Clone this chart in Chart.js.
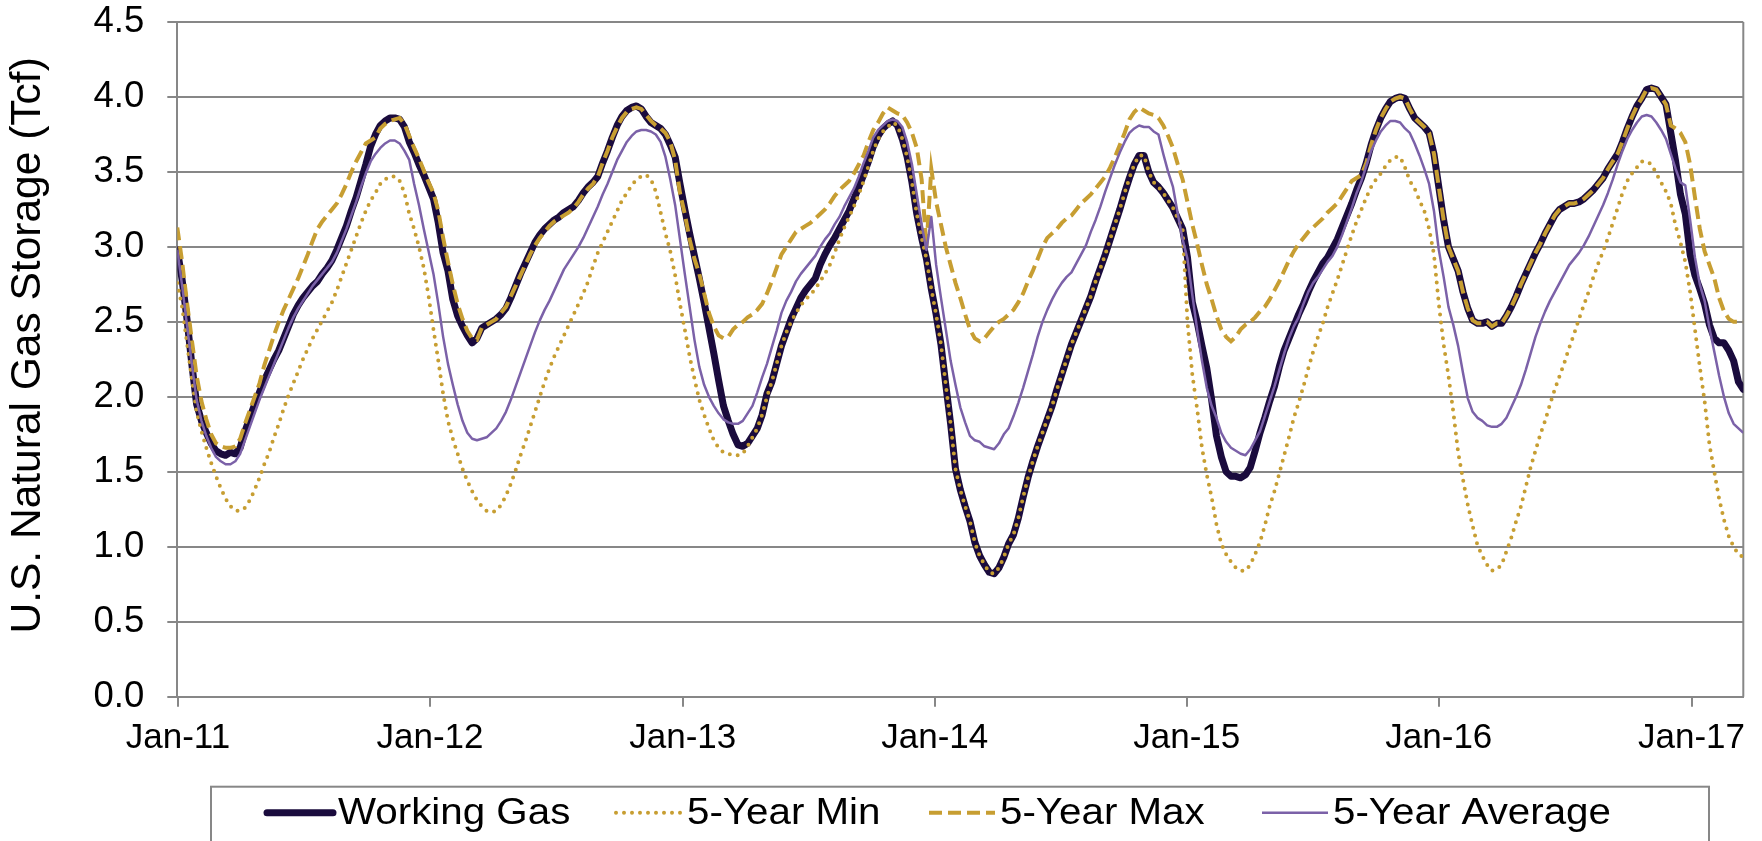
<!DOCTYPE html>
<html>
<head>
<meta charset="utf-8">
<title>U.S. Natural Gas Storage</title>
<script src="https://cdn.jsdelivr.net/npm/chart.js@4.4.0/dist/chart.umd.min.js"></script>
<style>
  html, body { margin: 0; padding: 0; background: #ffffff; }
  #wrap { width: 1762px; height: 841px; position: relative; }
</style>
</head>
<body>
<div id="wrap"><canvas id="storage"></canvas></div>
<script>
// Weekly storage reports, Tcf. First report week ends 2010-12-31, one value per week.
const firstReportDate = '2010-12-31';

const yearTickDates = ['2011-01-01', '2012-01-01', '2013-01-01', '2014-01-01', '2015-01-01', '2016-01-01', '2017-01-01'];
const yearTickLabels = ['Jan-11', 'Jan-12', 'Jan-13', 'Jan-14', 'Jan-15', 'Jan-16', 'Jan-17'];

const seriesNames = ['Working Gas', '5-Year Min', '5-Year Max', '5-Year Average'];
const axisTitle = 'U.S. Natural Gas Storage (Tcf)';

const workingGas = [
  2.98, 2.78, 2.52, 2.22, 1.95, 1.84, 1.76, 1.69, 1.64, 1.62,
  1.61, 1.63, 1.62, 1.66, 1.77, 1.86, 1.95, 2.03, 2.11, 2.18,
  2.25, 2.31, 2.39, 2.47, 2.55, 2.61, 2.66, 2.70, 2.74, 2.77,
  2.82, 2.86, 2.91, 2.98, 3.06, 3.14, 3.24, 3.33, 3.44, 3.55,
  3.67, 3.75, 3.81, 3.84, 3.86, 3.86, 3.85, 3.80, 3.70, 3.63,
  3.55, 3.48, 3.40, 3.32, 3.16, 2.96, 2.84, 2.65, 2.54, 2.47,
  2.41, 2.36, 2.39, 2.46, 2.48, 2.50, 2.52, 2.55, 2.59, 2.66,
  2.74, 2.82, 2.89, 2.96, 3.03, 3.08, 3.12, 3.15, 3.18, 3.20,
  3.23, 3.25, 3.27, 3.31, 3.36, 3.40, 3.43, 3.47, 3.56, 3.64,
  3.73, 3.81, 3.87, 3.91, 3.93, 3.94, 3.92, 3.87, 3.83, 3.81,
  3.79, 3.75, 3.68, 3.60, 3.42, 3.25, 3.09, 2.94, 2.79, 2.63,
  2.46, 2.29, 2.11, 1.94, 1.84, 1.75, 1.68, 1.67, 1.69, 1.74,
  1.79, 1.88, 2.02, 2.10, 2.22, 2.34, 2.43, 2.52, 2.59, 2.66,
  2.71, 2.75, 2.79, 2.88, 2.95, 3.01, 3.06, 3.12, 3.18, 3.24,
  3.32, 3.40, 3.48, 3.57, 3.67, 3.74, 3.79, 3.82, 3.84, 3.81,
  3.72, 3.60, 3.43, 3.22, 3.06, 2.92, 2.72, 2.55, 2.35, 2.08,
  1.82, 1.52, 1.38, 1.27, 1.17, 1.03, 0.94, 0.88, 0.83, 0.82,
  0.86, 0.93, 1.02, 1.08, 1.19, 1.33, 1.46, 1.57, 1.67, 1.76,
  1.85, 1.94, 2.05, 2.15, 2.25, 2.35, 2.43, 2.51, 2.59, 2.67,
  2.77, 2.86, 2.95, 3.05, 3.15, 3.25, 3.36, 3.46, 3.55, 3.61,
  3.61, 3.50, 3.43, 3.40, 3.36, 3.31, 3.26, 3.19, 3.12, 2.93,
  2.63, 2.50, 2.34, 2.19, 1.98, 1.74, 1.60, 1.50, 1.47, 1.47,
  1.46, 1.48, 1.53, 1.64, 1.76, 1.86, 1.97, 2.07, 2.20, 2.31,
  2.39, 2.47, 2.55, 2.62, 2.70, 2.77, 2.83, 2.89, 2.93, 2.99,
  3.05, 3.13, 3.21, 3.29, 3.38, 3.46, 3.56, 3.68, 3.78, 3.86,
  3.92, 3.97, 3.99, 4.00, 3.99, 3.92, 3.86, 3.83, 3.80, 3.76,
  3.62, 3.40, 3.18, 3.00, 2.92, 2.84, 2.70, 2.59, 2.51, 2.49,
  2.49, 2.50, 2.47, 2.49, 2.49, 2.54, 2.60, 2.67, 2.75, 2.82,
  2.89, 2.96, 3.02, 3.09, 3.15, 3.21, 3.25, 3.27, 3.29, 3.29,
  3.30, 3.32, 3.35, 3.38, 3.42, 3.46, 3.52, 3.57, 3.62, 3.70,
  3.79, 3.87, 3.94, 3.99, 4.05, 4.06, 4.05, 4.00, 3.95, 3.76,
  3.57, 3.35, 3.22, 2.95, 2.81, 2.72, 2.62, 2.48, 2.39, 2.36,
  2.36, 2.31, 2.24, 2.10, 2.05
];

const fiveYearMin = [
  2.76, 2.60, 2.36, 2.12, 1.90, 1.77, 1.66, 1.56, 1.47, 1.39,
  1.32, 1.27, 1.24, 1.24, 1.26, 1.31, 1.38, 1.46, 1.55, 1.63,
  1.73, 1.82, 1.92, 2.01, 2.09, 2.17, 2.25, 2.32, 2.39, 2.45,
  2.51, 2.57, 2.63, 2.71, 2.80, 2.89, 2.98, 3.07, 3.16, 3.24,
  3.31, 3.36, 3.42, 3.45, 3.47, 3.47, 3.44, 3.36, 3.22, 3.12,
  3.00, 2.86, 2.67, 2.45, 2.24, 2.02, 1.84, 1.72, 1.62, 1.52,
  1.44, 1.37, 1.31, 1.27, 1.24, 1.23, 1.24, 1.28, 1.34, 1.42,
  1.51, 1.61, 1.70, 1.80, 1.90, 2.00, 2.10, 2.19, 2.27, 2.34,
  2.41, 2.48, 2.55, 2.62, 2.69, 2.77, 2.87, 2.96, 3.03, 3.10,
  3.17, 3.24, 3.31, 3.36, 3.41, 3.45, 3.47, 3.48, 3.45, 3.37,
  3.23, 3.09, 2.97, 2.81, 2.62, 2.45, 2.27, 2.12, 1.98, 1.88,
  1.79, 1.71, 1.66, 1.63, 1.62, 1.61, 1.61, 1.62, 1.67, 1.73,
  1.79, 1.88, 2.00, 2.10, 2.22, 2.34, 2.43, 2.50, 2.56, 2.61,
  2.65, 2.68, 2.72, 2.77, 2.82, 2.88, 2.96, 3.05, 3.13, 3.20,
  3.27, 3.35, 3.44, 3.54, 3.64, 3.72, 3.77, 3.80, 3.83, 3.81,
  3.72, 3.60, 3.43, 3.22, 3.06, 2.92, 2.72, 2.55, 2.35, 2.08,
  1.82, 1.52, 1.38, 1.27, 1.17, 1.03, 0.94, 0.88, 0.83, 0.82,
  0.86, 0.93, 1.02, 1.08, 1.19, 1.33, 1.46, 1.57, 1.67, 1.76,
  1.85, 1.94, 2.05, 2.15, 2.25, 2.35, 2.43, 2.51, 2.59, 2.67,
  2.77, 2.86, 2.95, 3.05, 3.15, 3.25, 3.36, 3.46, 3.55, 3.61,
  3.61, 3.50, 3.43, 3.40, 3.36, 3.31, 3.26, 3.19, 3.12, 2.50,
  2.15, 1.92, 1.66, 1.48, 1.33, 1.15, 1.02, 0.95, 0.90, 0.86,
  0.84, 0.84, 0.88, 0.95, 1.03, 1.14, 1.27, 1.37, 1.49, 1.61,
  1.73, 1.86, 1.96, 2.07, 2.19, 2.30, 2.40, 2.49, 2.60, 2.69,
  2.78, 2.88, 2.98, 3.08, 3.17, 3.25, 3.33, 3.40, 3.45, 3.49,
  3.54, 3.58, 3.60, 3.60, 3.53, 3.44, 3.39, 3.31, 3.24, 3.12,
  2.95, 2.62, 2.35, 2.14, 1.90, 1.63, 1.45, 1.28, 1.14, 1.01,
  0.94, 0.88, 0.84, 0.85, 0.88, 0.97, 1.06, 1.17, 1.27, 1.40,
  1.53, 1.64, 1.75, 1.84, 1.95, 2.05, 2.14, 2.23, 2.33, 2.42,
  2.52, 2.61, 2.70, 2.80, 2.89, 2.97, 3.06, 3.16, 3.26, 3.36,
  3.44, 3.49, 3.53, 3.57, 3.57, 3.55, 3.49, 3.43, 3.37, 3.29,
  3.14, 3.03, 2.90, 2.70, 2.45, 2.20, 1.97, 1.68, 1.50, 1.32,
  1.18, 1.07, 1.00, 0.95, 0.93
];

const fiveYearMax = [
  3.13, 2.90, 2.63, 2.38, 2.14, 1.97, 1.85, 1.75, 1.69, 1.67,
  1.66, 1.66, 1.67, 1.72, 1.82, 1.91, 2.00, 2.09, 2.21, 2.31,
  2.41, 2.50, 2.58, 2.65, 2.72, 2.79, 2.87, 2.95, 3.04, 3.12,
  3.17, 3.21, 3.25, 3.29, 3.35, 3.42, 3.50, 3.57, 3.63, 3.69,
  3.71, 3.73, 3.79, 3.82, 3.84, 3.85, 3.86, 3.82, 3.74, 3.66,
  3.59, 3.51, 3.43, 3.36, 3.24, 3.06, 2.90, 2.75, 2.62, 2.52,
  2.44, 2.39, 2.38, 2.46, 2.48, 2.50, 2.52, 2.56, 2.60, 2.67,
  2.74, 2.81, 2.88, 2.95, 3.01, 3.06, 3.10, 3.14, 3.17, 3.19,
  3.21, 3.23, 3.26, 3.30, 3.35, 3.39, 3.42, 3.47, 3.56, 3.64,
  3.73, 3.80, 3.86, 3.90, 3.92, 3.93, 3.92, 3.88, 3.84, 3.81,
  3.79, 3.76, 3.70, 3.58, 3.36, 3.22, 3.05, 2.92, 2.82, 2.69,
  2.56, 2.47, 2.41, 2.39, 2.40, 2.45, 2.48, 2.50, 2.53, 2.55,
  2.58, 2.62, 2.69, 2.77, 2.86, 2.95, 3.00, 3.05, 3.10, 3.12,
  3.14, 3.16, 3.19, 3.22, 3.25, 3.29, 3.34, 3.38, 3.41, 3.44,
  3.49, 3.55, 3.61, 3.70, 3.78, 3.83, 3.89, 3.93, 3.91, 3.89,
  3.88, 3.83, 3.76, 3.66, 3.45, 3.00, 3.52, 3.30, 3.15, 3.00,
  2.88, 2.76, 2.66, 2.55, 2.45, 2.39, 2.37, 2.39, 2.43, 2.47,
  2.50, 2.52, 2.55, 2.58, 2.63, 2.69, 2.77, 2.84, 2.92, 3.00,
  3.06, 3.09, 3.12, 3.16, 3.19, 3.21, 3.25, 3.29, 3.32, 3.35,
  3.39, 3.43, 3.47, 3.53, 3.60, 3.68, 3.76, 3.85, 3.90, 3.93,
  3.91, 3.89, 3.88, 3.86, 3.81, 3.74, 3.66, 3.55, 3.45, 3.30,
  3.15, 3.02, 2.88, 2.75, 2.65, 2.54, 2.45, 2.40, 2.37, 2.40,
  2.45, 2.48, 2.50, 2.53, 2.57, 2.60, 2.65, 2.71, 2.77, 2.84,
  2.91, 2.97, 3.02, 3.06, 3.10, 3.13, 3.16, 3.19, 3.23, 3.26,
  3.29, 3.34, 3.39, 3.44, 3.46, 3.48, 3.56, 3.68, 3.78, 3.86,
  3.92, 3.97, 3.99, 4.00, 3.99, 3.92, 3.86, 3.83, 3.80, 3.76,
  3.62, 3.40, 3.18, 3.00, 2.92, 2.84, 2.70, 2.59, 2.51, 2.49,
  2.49, 2.50, 2.47, 2.49, 2.49, 2.54, 2.60, 2.67, 2.75, 2.82,
  2.89, 2.96, 3.02, 3.09, 3.15, 3.21, 3.25, 3.27, 3.29, 3.29,
  3.30, 3.32, 3.35, 3.38, 3.42, 3.46, 3.52, 3.57, 3.62, 3.70,
  3.79, 3.87, 3.94, 3.99, 4.05, 4.06, 4.05, 4.00, 3.95, 3.81,
  3.79, 3.76, 3.70, 3.55, 3.33, 3.12, 2.97, 2.88, 2.79, 2.66,
  2.57, 2.52, 2.50, 2.50, 2.50
];

const fiveYearAverage = [
  2.98, 2.74, 2.48, 2.22, 1.98, 1.84, 1.74, 1.66, 1.60, 1.57,
  1.55, 1.55, 1.57, 1.62, 1.71, 1.80, 1.89, 1.98, 2.06, 2.14,
  2.22, 2.30, 2.38, 2.46, 2.53, 2.59, 2.64, 2.69, 2.74, 2.78,
  2.82, 2.86, 2.90, 2.96, 3.04, 3.12, 3.21, 3.30, 3.40, 3.49,
  3.57, 3.62, 3.66, 3.69, 3.71, 3.71, 3.69, 3.64, 3.58, 3.42,
  3.28, 3.12, 2.97, 2.82, 2.62, 2.40, 2.22, 2.08, 1.95, 1.84,
  1.76, 1.72, 1.71, 1.72, 1.73, 1.76, 1.79, 1.84, 1.90, 1.98,
  2.07, 2.16, 2.25, 2.34, 2.43, 2.51, 2.58, 2.64, 2.71, 2.78,
  2.85, 2.90, 2.95, 3.00, 3.06, 3.13, 3.20, 3.27, 3.35, 3.42,
  3.50, 3.58, 3.64, 3.70, 3.74, 3.77, 3.78, 3.78, 3.77, 3.75,
  3.70, 3.60, 3.45, 3.28, 3.05, 2.82, 2.60, 2.38, 2.20, 2.08,
  2.00, 1.94, 1.89, 1.85, 1.83, 1.82, 1.82, 1.84, 1.89, 1.94,
  2.03, 2.13, 2.22, 2.33, 2.44, 2.56, 2.64, 2.70, 2.77, 2.82,
  2.86, 2.90, 2.94, 3.00, 3.05, 3.09, 3.15, 3.20, 3.27, 3.33,
  3.39, 3.47, 3.56, 3.64, 3.73, 3.78, 3.81, 3.84, 3.85, 3.84,
  3.80, 3.70, 3.55, 3.35, 3.15, 2.98, 3.20, 2.88, 2.66, 2.45,
  2.24, 2.08, 1.93, 1.83, 1.74, 1.71, 1.70, 1.67, 1.66, 1.65,
  1.69, 1.75, 1.79, 1.87, 1.96, 2.06, 2.17, 2.28, 2.40, 2.50,
  2.58, 2.65, 2.71, 2.76, 2.80, 2.83, 2.89, 2.95, 3.01, 3.10,
  3.18, 3.27, 3.37, 3.46, 3.55, 3.63, 3.70, 3.76, 3.79, 3.81,
  3.80, 3.80, 3.77, 3.75, 3.62, 3.50, 3.40, 3.22, 3.05, 2.92,
  2.68, 2.45, 2.24, 2.06, 1.94, 1.86, 1.76, 1.70, 1.66, 1.64,
  1.62, 1.61, 1.65, 1.71, 1.77, 1.87, 1.97, 2.07, 2.18, 2.29,
  2.39, 2.47, 2.53, 2.62, 2.70, 2.76, 2.80, 2.85, 2.90, 2.94,
  3.00, 3.08, 3.17, 3.26, 3.36, 3.44, 3.54, 3.64, 3.71, 3.77,
  3.81, 3.84, 3.84, 3.83, 3.79, 3.76, 3.69, 3.61, 3.52, 3.42,
  3.24, 2.98, 2.80, 2.60, 2.48, 2.34, 2.16, 1.99, 1.90, 1.86,
  1.84, 1.81, 1.80, 1.80, 1.82, 1.86, 1.93, 2.00, 2.08, 2.18,
  2.29, 2.40, 2.49, 2.57, 2.64, 2.70, 2.76, 2.82, 2.88, 2.92,
  2.96, 3.01, 3.07, 3.14, 3.21, 3.28, 3.36, 3.45, 3.55, 3.64,
  3.72, 3.78, 3.83, 3.87, 3.88, 3.87, 3.83, 3.78, 3.72, 3.62,
  3.52, 3.43, 3.41, 3.18, 2.93, 2.75, 2.64, 2.46, 2.30, 2.14,
  2.00, 1.89, 1.82, 1.79, 1.76
];

// ---- helpers -------------------------------------------------------------
const DAY_MS = 86400000;
const startMs = Date.parse(firstReportDate + 'T00:00:00Z');
const dayOffset = d => (Date.parse(d + 'T00:00:00Z') - startMs) / DAY_MS;
const reportDays = workingGas.map((_, i) => i * 7);          // weekly reports
const asPoints = values => values.map((v, i) => ({ x: reportDays[i], y: v }));

const FONT = '"Liberation Sans", Arial, Helvetica, sans-serif';
const GRID = '#878787';
const NAVY = '#1a0b3d';
const GOLD = '#c79e32';
const LILAC = '#7b61a8';

// Right-hand frame of the plot area (top edge is the 4.5 gridline).
const plotFrame = {
  id: 'plotFrame',
  beforeDatasetsDraw(chart) {
    const { ctx, chartArea: a } = chart;
    ctx.save();
    ctx.strokeStyle = GRID;
    ctx.lineWidth = 2;
    ctx.beginPath();
    ctx.moveTo(a.right, a.top);
    ctx.lineTo(a.right, a.bottom);
    ctx.stroke();
    ctx.restore();
  }
};

// Rotated value-axis title, a little above the middle of the plot.
const valueAxisTitle = {
  id: 'valueAxisTitle',
  afterDraw(chart) {
    const { ctx, chartArea: a } = chart;
    ctx.save();
    ctx.translate(28, (a.top + a.bottom) / 2 - 14);
    ctx.rotate(-Math.PI / 2);
    ctx.font = '42.5px ' + FONT;
    ctx.fillStyle = '#000';
    ctx.textAlign = 'center';
    ctx.textBaseline = 'middle';
    ctx.fillText(axisTitle, 0, 0);
    ctx.restore();
  }
};

// Boxed legend below the x axis; one slot per series.
const boxedLegend = {
  id: 'boxedLegend',
  afterDraw(chart) {
    const { ctx, chartArea: a } = chart;
    const top = a.bottom + 90;
    const left = 211, right = 1709;
    const slotX = [267, 616, 929, 1262];
    const sampleLen = 66, sampleGap = 5, stretch = 1.12;
    ctx.save();
    ctx.strokeStyle = GRID;
    ctx.lineWidth = 2;
    ctx.strokeRect(left, top, right - left, chart.height - top + 30);

    ctx.font = '36px ' + FONT;
    const lineY = top + 26;
    const baseY = top + 37;
    chart.data.datasets.forEach((ds, i) => {
      const x = slotX[i];
      ctx.save();
      ctx.strokeStyle = ds.borderColor;
      ctx.lineWidth = ds.borderWidth;
      ctx.lineCap = ds.borderCapStyle || 'butt';
      ctx.setLineDash(ds.borderDash || []);
      ctx.beginPath();
      ctx.moveTo(x, lineY);
      ctx.lineTo(x + sampleLen, lineY);
      ctx.stroke();
      ctx.restore();
      ctx.save();
      ctx.translate(x + sampleLen + sampleGap, baseY);
      ctx.scale(stretch, 1);
      ctx.fillStyle = '#000';
      ctx.textBaseline = 'alphabetic';
      ctx.textAlign = 'left';
      ctx.fillText(ds.label, 0, 0);
      ctx.restore();
    });
    ctx.restore();
  }
};

new Chart(document.getElementById('storage'), {
  type: 'line',
  data: {
    datasets: [
      { label: seriesNames[0], data: asPoints(workingGas), borderColor: NAVY, borderWidth: 7,
        borderCapStyle: 'round', borderJoinStyle: 'round', order: 4 },
      { label: seriesNames[1], data: asPoints(fiveYearMin), borderColor: GOLD, borderWidth: 4,
        borderDash: [0, 8], borderCapStyle: 'round', borderJoinStyle: 'round', order: 3 },
      { label: seriesNames[2], data: asPoints(fiveYearMax), borderColor: GOLD, borderWidth: 4,
        borderDash: [13, 6], borderCapStyle: 'butt', order: 2 },
      { label: seriesNames[3], data: asPoints(fiveYearAverage), borderColor: LILAC, borderWidth: 2.5,
        borderJoinStyle: 'round', order: 1 }
    ]
  },
  options: {
    responsive: true,
    maintainAspectRatio: false,
    animation: false,
    events: [],
    layout: { padding: { top: 22, right: 18.7, bottom: 84.3, left: 0 } },
    elements: { point: { radius: 0 }, line: { tension: 0, fill: false } },
    plugins: { legend: { display: false }, tooltip: { enabled: false } },
    scales: {
      x: {
        type: 'linear',
        min: 0,
        max: reportDays[reportDays.length - 1],
        afterBuildTicks: s => { s.ticks = yearTickDates.map(d => ({ value: dayOffset(d) })); },
        afterFit: s => { s.height = 60; },
        grid: { drawOnChartArea: false, drawTicks: true, tickLength: 10, color: GRID, lineWidth: 2 },
        border: { display: true, color: GRID, width: 2 },
        ticks: {
          autoSkip: false, maxRotation: 0, padding: 11, color: '#000',
          font: { family: FONT, size: 35 },
          callback: (v, i) => yearTickLabels[i]
        }
      },
      y: {
        min: 0,
        max: 4.5,
        afterFit: s => { s.width = 177.3; s.paddingTop = 0; s.paddingBottom = 0; },
        grid: { color: GRID, lineWidth: 2, drawTicks: true, tickLength: 10 },
        border: { display: true, color: GRID, width: 2 },
        ticks: {
          stepSize: 0.5, padding: 23, color: '#000',
          font: { family: FONT, size: 36.5 },
          callback: v => v.toFixed(1)
        },
        title: { display: false }
      }
    }
  },
  plugins: [plotFrame, valueAxisTitle, boxedLegend]
});
</script>
</body>
</html>
